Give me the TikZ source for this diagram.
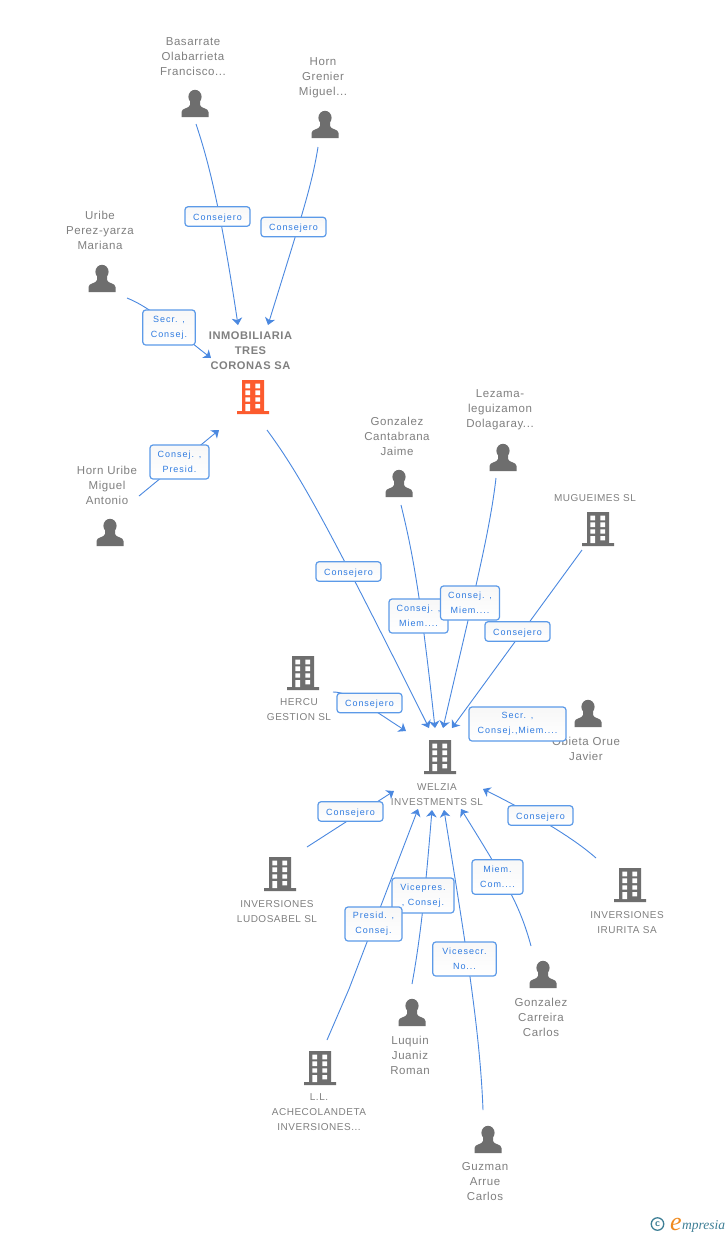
\documentclass[tikz,border=0pt]{standalone}
\usepackage{fontspec}
\usetikzlibrary{arrows.meta}
\newfontfamily\pplfont[LetterSpace=5]{Liberation Sans}
\newfontfamily\boxfont[LetterSpace=11]{Liberation Sans}
\newfontfamily\logofont{Liberation Serif}
\definecolor{ink}{HTML}{808080}
\definecolor{icon}{HTML}{6E6E6E}
\definecolor{hot}{HTML}{FC5B2E}
\definecolor{edge}{HTML}{4A88E0}
\definecolor{rim}{HTML}{5C9AE8}
\definecolor{boxtxt}{HTML}{2F7BE0}
\definecolor{teal}{HTML}{3E7F96}
\definecolor{orng}{HTML}{F08A1E}
\tikzset{
  ppl/.style={inner sep=0pt,yshift=-1pt,align=center,text=ink,font=\pplfont\fontsize{11.5}{15}\selectfont},
  org/.style={inner sep=0pt,yshift=-1.2pt,align=center,text=ink,font=\pplfont\fontsize{10}{15}\selectfont},
  lead/.style={inner sep=0pt,yshift=-1pt,align=center,text=ink,font=\pplfont\bfseries\fontsize{11.1}{15}\selectfont},
  tag/.style={draw=rim,line width=1.2pt,rounded corners=3pt,top color=black!3,bottom color=white,
    inner sep=0pt,align=center,text=boxtxt,font=\boxfont\fontsize{9}{15}\selectfont,
    execute at begin node={\rule{0pt}{9.6pt}}},
  link/.style={draw=edge,line width=0.9pt,line join=round,-{Stealth[length=7pt,width=10.5pt,inset=2pt]}},
  person/.pic={
    \fill[icon] (0,6.8) ellipse [x radius=6.6,y radius=7];
    \fill[icon] (-13.5,27) -- (-13.5,22) .. controls (-13.5,18) and (-5.5,18.5) .. (-5,15) -- (-5,10) -- (5,10) -- (5,15)
       .. controls (5.5,18.5) and (13.5,18) .. (13.5,22) -- (13.5,27) -- cycle;
  },
  tower/.pic={
    \fill[pic actions] (-11,0) rectangle (11,32) (-16,31) rectangle (16,34);
    \fill[white]
      (-7.7,3.7) rectangle (-3,8.3) (2.3,3.7) rectangle (7,8.3)
      (-7.7,10.3) rectangle (-3,15) (2.3,10.3) rectangle (7,15)
      (-7.7,17.3) rectangle (-3,21.7) (2.3,17.3) rectangle (7,21.7)
      (-7.7,24) rectangle (-3,31) (2.3,24) rectangle (7,28.3);
  }
}
\begin{document}
\begin{tikzpicture}[x=1pt,y=-1pt]
\useasboundingbox (0,0) rectangle (728,1235);
\fill[white] (0,0) rectangle (728,1235);
% icons
\pic at (195,90) {person};
\pic at (325,111) {person};
\pic at (102,265) {person};
\pic at (110,519) {person};
\pic at (399,470) {person};
\pic at (503,444) {person};
\pic at (588,700) {person};
\pic at (543,961) {person};
\pic at (412,999) {person};
\pic at (488,1126) {person};
\pic[fill=hot] at (253,380) {tower};
\pic[fill=icon] at (598,512) {tower};
\pic[fill=icon] at (303,656) {tower};
\pic[fill=icon] at (440,740) {tower};
\pic[fill=icon] at (280,857) {tower};
\pic[fill=icon] at (630,868) {tower};
\pic[fill=icon] at (320,1051) {tower};
% names
\node[ppl] (basarrate) at (193,56) {Basarrate\\Olabarrieta\\Francisco...};
\node[ppl] (grenier) at (323,77) {Horn\\Grenier\\Miguel...};
\node[ppl] (uribe) at (100,229) {Uribe\\Perez-yarza\\Mariana};
\node[ppl] (hornuribe) at (107,484) {Horn Uribe\\Miguel\\Antonio};
\node[lead] (tres) at (250.5,350) {INMOBILIARIA\\TRES\\CORONAS SA};
\node[ppl] (cantabrana) at (397,435) {Gonzalez\\Cantabrana\\Jaime};
\node[ppl] (lezama) at (500,409) {Lezama-\\leguizamon\\Dolagaray...};
\node[org] (mugueimes) at (595,497) {MUGUEIMES SL};
\node[org] (hercu) at (299,708) {HERCU\\GESTION SL};
\node[ppl] (obieta) at (586,748) {Obieta Orue\\Javier};
\node[org] (welzia) at (437,793) {WELZIA\\INVESTMENTS SL};
\node[org] (ludosabel) at (277,910) {INVERSIONES\\LUDOSABEL SL};
\node[org] (irurita) at (627,921) {INVERSIONES\\IRURITA SA};
\node[org] (ache) at (319,1111) {L.L.\\ACHECOLANDETA\\INVERSIONES...};
\node[ppl] (carreira) at (541,1016) {Gonzalez\\Carreira\\Carlos};
\node[ppl] (luquin) at (410,1054) {Luquin\\Juaniz\\Roman};
\node[ppl] (guzman) at (485,1181) {Guzman\\Arrue\\Carlos};
% connector ends
\coordinate (s1) at (196,124); \coordinate (t1) at (238,325);
\coordinate (s2) at (318,147); \coordinate (t2) at (268,325);
\coordinate (s3) at (127,298); \coordinate (t3) at (211,358);
\coordinate (s4) at (139,496); \coordinate (t4) at (219,430);
\coordinate (s5) at (267,430); \coordinate (t5) at (429,728);
\coordinate (s6) at (401,505); \coordinate (t6) at (435,728);
\coordinate (s7) at (496,478); \coordinate (t7) at (443,728);
\coordinate (s8) at (582,550); \coordinate (t8) at (452,728);
\coordinate (s9) at (333,692); \coordinate (t9) at (406,731);
\coordinate (s10) at (307,847); \coordinate (t10) at (394,791);
\coordinate (s11) at (596,858); \coordinate (t11) at (483,789);
\coordinate (s12) at (531,946); \coordinate (t12) at (461,809);
\coordinate (s13) at (412,984); \coordinate (t13) at (432,810);
\coordinate (s14) at (327,1040); \coordinate (t14) at (418,809);
\coordinate (s15) at (483,1110); \coordinate (t15) at (444,810);
% connectors
\draw[link] (s1) .. controls (208,160) and (220,205) .. (t1);
\draw[link] (s2) .. controls (312,185) and (302,215) .. (t2);
\draw[link] (s3) .. controls (152,308) and (175,330) .. (t3);
\draw[link] (s4) -- (t4);
\draw[link] (s5) .. controls (300,475) and (325,520) .. (t5);
\draw[link] (s6) .. controls (412,550) and (420,590) .. (t6);
\draw[link] (s7) .. controls (490,530) and (475,590) .. (t7);
\draw[link] (s8) -- (t8);
\draw[link] (s9) .. controls (350,692) and (370,708) .. (t9);
\draw[link] (s10) -- (t10);
\draw[link] (s11) .. controls (570,835) and (525,810) .. (t11);
\draw[link] (s12) .. controls (520,905) and (505,880) .. (t12);
\draw[link] (s13) .. controls (422,930) and (427,870) .. (t13);
\draw[link] (s14) -- (349,989) -- (t14);
\draw[link] (s15) .. controls (480,1030) and (465,940) .. (t15);
% role tags
\node[tag,minimum width=65pt,minimum height=19.5pt] (r1) at (217.5,216.5) {Consejero};
\node[tag,minimum width=65pt,minimum height=19.5pt] (r2) at (293.5,227) {Consejero};
\node[tag,minimum width=52.5pt,minimum height=35pt] (r3) at (169,327.5) {Secr. ,\\Consej.};
\node[tag,minimum width=59pt,minimum height=34pt] (r4) at (179.5,462) {Consej. ,\\Presid.};
\node[tag,minimum width=65pt,minimum height=19.5pt] (r5) at (348.5,571.5) {Consejero};
\node[tag,minimum width=59pt,minimum height=34pt] (r6) at (418.5,616) {Consej. ,\\Miem....};
\node[tag,minimum width=59pt,minimum height=34pt] (r7) at (470,603) {Consej. ,\\Miem....};
\node[tag,minimum width=65pt,minimum height=19.5pt] (r8) at (517.5,631.5) {Consejero};
\node[tag,minimum width=65pt,minimum height=19.5pt] (r9) at (369.5,703) {Consejero};
\node[tag,minimum width=97pt,minimum height=34pt] (r10) at (517.5,724) {Secr. ,\\Consej.,Miem....};
\node[tag,minimum width=65pt,minimum height=19.5pt] (r11) at (350.5,811.5) {Consejero};
\node[tag,minimum width=65pt,minimum height=19.5pt] (r12) at (540.5,815.5) {Consejero};
\node[tag,minimum width=51pt,minimum height=34.5pt] (r13) at (497.5,877) {Miem.\\Com....};
\node[tag,minimum width=62pt,minimum height=35pt] (r14) at (423,895.5) {Vicepres.\\, Consej.};
\node[tag,minimum width=57pt,minimum height=34pt] (r15) at (373.5,924) {Presid. ,\\Consej.};
\node[tag,minimum width=63.5pt,minimum height=34pt] (r16) at (464.5,959) {Vicesecr.\\No...};
% logo
\node[draw=teal,line width=1.3pt,circle,inner sep=0pt,minimum size=12.5pt,text=teal,font=\fontsize{10}{10}\selectfont\bfseries\sffamily] (copyr) at (657.5,1224) {c};
\node[inner sep=0pt,anchor=base west,text=orng,font=\logofont\itshape\fontsize{26}{26}\selectfont] (eletter) at (670,1230) {e};
\node[inner sep=0pt,anchor=base west,text=teal,font=\logofont\itshape\fontsize{13.5}{13.5}\selectfont] (mpresia) at (682,1229) {mpresia};
\end{tikzpicture}
\end{document}
